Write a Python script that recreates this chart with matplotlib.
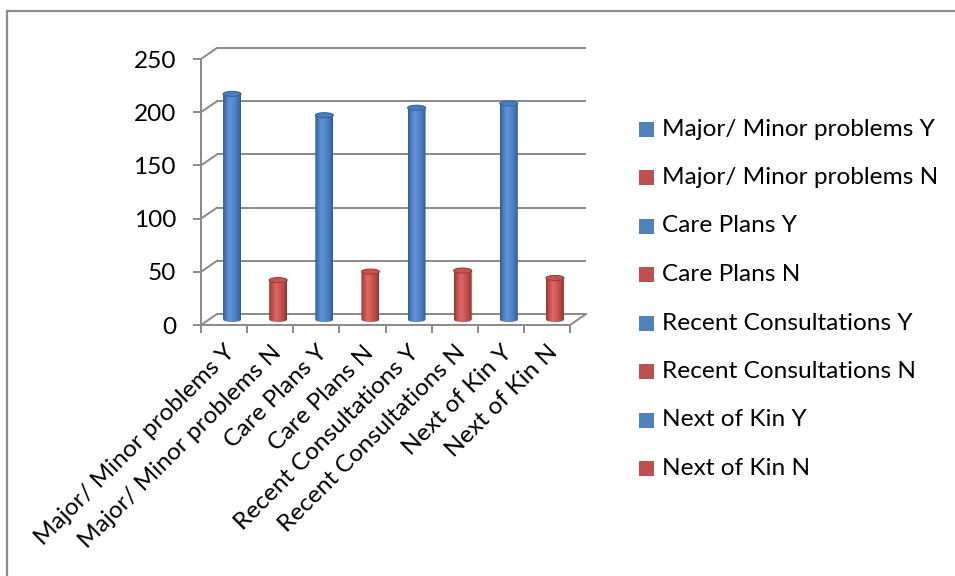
import numpy as np
import matplotlib
matplotlib.use("Agg")
import matplotlib.pyplot as plt
from matplotlib.patches import Ellipse, Polygon, Rectangle
from matplotlib.colors import LinearSegmentedColormap
from matplotlib.lines import Line2D

# ---- data -------------------------------------------------------------
categories = [
    "Major/ Minor problems Y", "Major/ Minor problems N",
    "Care Plans Y", "Care Plans N",
    "Recent Consultations Y", "Recent Consultations N",
    "Next of Kin Y", "Next of Kin N",
]
counts = [212, 37, 192, 45, 199, 46, 203, 39]
y_ticks = [0, 50, 100, 150, 200, 250]

# ---- style ------------------------------------------------------------
plt.rcParams["font.family"] = ["Lato", "DejaVu Sans"]
FS = 17.6
GRID = "#898989"
LW = 1.4
BLUE, RED = "#4F81BD", "#C0504D"
colors = [BLUE if lab.endswith("Y") else RED for lab in categories]

blue_grad = LinearSegmentedColormap.from_list(
    "bl", [(0, "#2e5b95"), (0.15, "#4878b9"), (0.38, "#5f95d8"),
           (0.62, "#5287c9"), (0.86, "#4172b1"), (1, "#2d5990")])
red_grad = LinearSegmentedColormap.from_list(
    "rd", [(0, "#8e3432"), (0.15, "#bb4c49"), (0.38, "#de6964"),
           (0.62, "#cd5651"), (0.86, "#b04441"), (1, "#8a312f")])

W, H = 955, 576
fig = plt.figure(figsize=(W / 100, H / 100), dpi=100)

# front plane of the 3-D box, in pixels
x0, x1, yb, yt = 201, 570, 325, 59
ax = fig.add_axes([x0 / W, 1 - yb / H, (x1 - x0) / W, (yb - yt) / H])
n = len(categories)
ax.set_xlim(0, n)
ax.set_ylim(0, 250)
for s in ax.spines.values():
    s.set_visible(False)
ax.patch.set_alpha(0)

# depth offset of the back wall (16 px right, 11 px up)
DX = 16 * n / (x1 - x0)
DY = 11 * 250 / (yb - yt)

# back-wall gridlines and side-wall diagonals
for v in y_ticks:
    ax.plot([DX, n + DX], [v + DY, v + DY], color=GRID, lw=LW,
            clip_on=False, zorder=1, solid_capstyle="butt")
    ax.plot([0, DX], [v, v + DY], color=GRID, lw=LW, clip_on=False, zorder=1)
# front vertical axis and floor
ax.plot([0, 0], [0, 250], color=GRID, lw=LW, clip_on=False, zorder=1)
ax.plot([0, n], [0, 0], color=GRID, lw=LW, clip_on=False, zorder=1)
ax.plot([n, n + DX], [0, DY], color=GRID, lw=LW, clip_on=False, zorder=1)

# cylinders, standing at mid depth
hw = 0.195
eh = 5 * 250 / (yb - yt)
a = eh / 2
grad = np.linspace(0, 1, 128).reshape(1, -1)
theta = np.linspace(0, -np.pi, 40)
for i, (v, c) in enumerate(zip(counts, colors)):
    cx = i + 0.5 + DX / 2
    base = DY / 2
    top = base + v
    verts = [(cx - hw, top), (cx + hw, top)]
    verts += [(cx + hw * np.cos(t), base + a * np.sin(t)) for t in theta]
    body = Polygon(verts, closed=True, transform=ax.transData)
    cmap = blue_grad if c == BLUE else red_grad
    im = ax.imshow(grad, cmap=cmap, extent=[cx - hw, cx + hw, base - a, top],
                   aspect="auto", interpolation="bilinear", zorder=3)
    im.set_clip_path(body)
    top_face = "#4b7fbf" if c == BLUE else "#c9544f"
    top_edge = "#36639e" if c == BLUE else "#9e3c39"
    ax.add_patch(Ellipse((cx, top), 2 * hw, eh, facecolor=top_face,
                         edgecolor=top_edge, lw=0.8, zorder=4))

ax.set_xlim(0, n)
ax.set_ylim(0, 250)

# y axis ticks / labels
ax.set_yticks(y_ticks)
ax.set_yticklabels([str(t) for t in y_ticks])
ax.tick_params(axis="y", length=8 * 0.72, width=LW, color=GRID,
               pad=17 * 0.72, labelsize=FS, direction="out")

# x axis: tick marks at category borders, labels at centres
ax.set_xticks(np.arange(n + 1), minor=True)
ax.set_xticks(np.arange(n) + 0.5)
ax.set_xticklabels(categories)
ax.tick_params(axis="x", which="minor", length=8 * 0.72, width=LW,
               color=GRID, direction="out")
ax.tick_params(axis="x", which="major", length=0, pad=12, labelsize=FS)
for lbl in ax.get_xticklabels():
    lbl.set_rotation(45)
    lbl.set_ha("right")
    lbl.set_va("top")
    lbl.set_rotation_mode("anchor")

# legend
for k, (lab, c) in enumerate(zip(categories, colors)):
    yc = 129 + 48.5 * k
    fig.add_artist(Rectangle((639 / W, 1 - (yc + 7.5) / H), 15 / W, 15 / H,
                             transform=fig.transFigure, facecolor=c,
                             edgecolor="none"))
    fig.text(662 / W, 1 - yc / H, lab, ha="left", va="center", fontsize=FS)

# chart-area border (top and left edges)
fig.add_artist(Line2D([7 / W, 7 / W], [0, 1 - 10.5 / H], color="#8c8c8c",
                      lw=1.6, transform=fig.transFigure))
fig.add_artist(Line2D([7 / W, 1], [1 - 10.5 / H, 1 - 10.5 / H],
                      color="#8c8c8c", lw=1.6, transform=fig.transFigure))

fig.savefig("out.png", dpi=100)
